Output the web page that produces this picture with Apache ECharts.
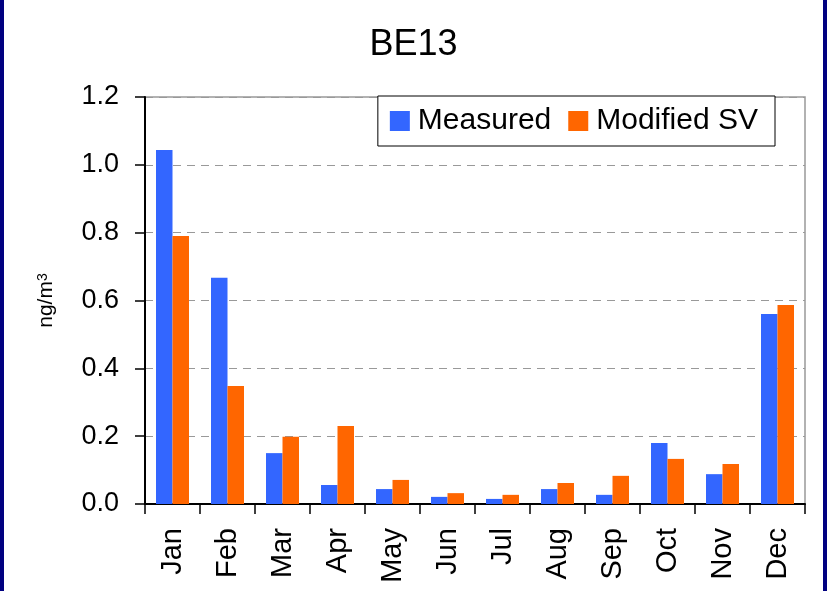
<!DOCTYPE html>
<html>
<head>
<meta charset="utf-8">
<script src="https://cdn.jsdelivr.net/npm/echarts@6/dist/echarts.min.js"></script>
<style>
html, body { margin: 0; padding: 0; background: #fff; }
#chart { width: 827px; height: 591px; box-sizing: border-box; border-left: 4px solid #000080; border-right: 4px solid #000080; }
</style>
</head>
<body>
<div id="chart"></div>
<script>
var months = ["Jan","Feb","Mar","Apr","May","Jun","Jul","Aug","Sep","Oct","Nov","Dec"];
var measured = [1.044, 0.667, 0.150, 0.056, 0.044, 0.021, 0.015, 0.044, 0.027, 0.180, 0.088, 0.560];
var modifiedSV = [0.790, 0.348, 0.198, 0.230, 0.071, 0.032, 0.027, 0.062, 0.083, 0.133, 0.118, 0.587];
var yTicks = [0, 0.2, 0.4, 0.6, 0.8, 1.0, 1.2];

(function(){
    var myChart = echarts.init(document.getElementById("chart"));
    var font = 'Liberation Sans, Arial, sans-serif';
    var option = {
        backgroundColor: '#fff',
        animation: false,
        color: ['#3366ff', '#ff6600'],
        title: {
            text: 'BE13',
            left: 'center',
            top: 22,
            textStyle: { fontFamily: font, fontSize: 36, fontWeight: 'normal', color: '#000' }
        },
        grid: {
            left: 141,
            top: 97,
            right: 18,
            bottom: 87,
            show: true,
            borderColor: '#999',
            borderWidth: 1.5
        },
        legend: {
            right: 48,
            top: 96,
            orient: 'horizontal',
            itemWidth: 20,
            itemHeight: 20,
            itemGap: 17,
            padding: [10, 17, 10, 12],
            borderColor: '#000',
            borderWidth: 1,
            backgroundColor: '#fff',
            textStyle: { fontFamily: font, fontSize: 30, color: '#000', padding: [0, 0, 0, 3] },
            data: [
                { name: 'Measured', icon: 'rect' },
                { name: 'Modified SV', icon: 'rect' }
            ]
        },
        xAxis: {
            type: 'category',
            data: months,
            axisLine: { lineStyle: { color: '#000', width: 2 } },
            axisTick: { show: true, length: 10, interval: 0, lineStyle: { color: '#000', width: 1.5 } },
            axisLabel: {
                rotate: 90,
                interval: 0,
                margin: 24,
                fontFamily: font,
                fontSize: 29,
                color: '#000'
            }
        },
        yAxis: {
            type: 'value',
            min: yTicks[0],
            max: yTicks[yTicks.length - 1],
            interval: 0.2,
            name: 'ng/m{sup|3}',
            nameLocation: 'middle',
            nameGap: 88,
            nameTextStyle: {
                fontFamily: font, fontSize: 21, color: '#000',
                rich: { sup: { fontFamily: font, fontSize: 14, color: '#000', verticalAlign: 'top', lineHeight: 21 } }
            },
            axisLine: { show: true, lineStyle: { color: '#000', width: 2 } },
            axisTick: { show: true, length: 10, lineStyle: { color: '#000', width: 1.5 } },
            axisLabel: {
                margin: 26,
                fontFamily: font,
                fontSize: 27,
                color: '#000',
                formatter: function (v) { return v.toFixed(1); }
            },
            splitLine: {
                show: true,
                lineStyle: { color: '#999', type: [8, 6], width: 1 }
            }
        },
        series: [{
            name: 'Measured',
            type: 'bar',
            data: measured,
            barGap: '0%',
            barCategoryGap: '40%'
        }, {
            name: 'Modified SV',
            type: 'bar',
            data: modifiedSV,
            barGap: '0%',
            barCategoryGap: '40%'
        }]
    };
    myChart.setOption(option);
    window.addEventListener('resize', function() {
        myChart.resize();
    })
})();
</script>
</body>
</html>
